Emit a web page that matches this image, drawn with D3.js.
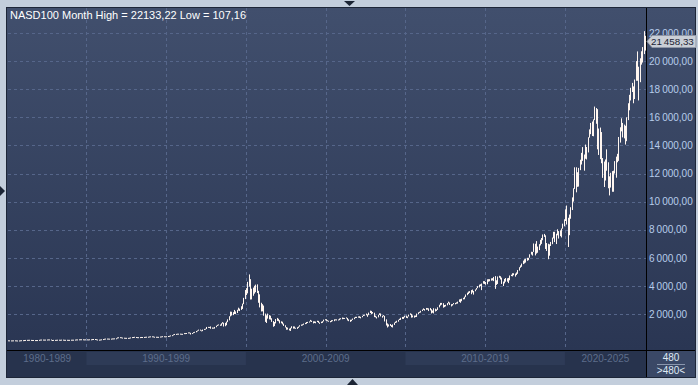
<!DOCTYPE html>
<html>
<head>
<meta charset="utf-8">
<script src="https://cdn.jsdelivr.net/npm/d3@7"></script>
<style>
  html, body { margin: 0; padding: 0; background: #c3cedc; }
  svg { display: block; font-family: "Liberation Sans", Arial, sans-serif; }
</style>
</head>
<body>
<div id="chart"></div>
<script>
// Monthly bars, Feb 1985 .. Jan 2025 (480 months)
const title = "NASD100 Month High = 22133,22 Low = 107,16";
const lastValue = 21458.33;

const lows = [
  120,114,113,115,118,117,112,107.16,108,114,123,                // 1985 (Feb-Dec)
  128,133,142,146,152,150,138,140,134,135,137,137,               // 1986
  140,158,167,164,165,168,172,177,174,125,130,133,               // 1987
  146,149,160,161,157,162,163,154,155,157,152,154,               // 1988
  158,163,164,170,178,176,179,192,193,176,184,188,               // 1989
  175,178,186,182,190,205,196,178,165,160,166,181,               // 1990
  196,212,228,230,236,222,227,240,248,250,250,252,               // 1991
  318,330,315,295,298,285,286,290,294,305,330,345,               // 1992
  350,330,335,322,328,345,340,347,359,365,360,370,               // 1993
  392,396,368,360,360,345,352,368,391,395,388,390,               // 1994
  395,408,425,440,465,488,540,555,565,550,565,555,               // 1995
  550,575,585,600,640,630,540,590,630,690,700,780,               // 1996
  810,810,780,780,880,900,930,1020,1020,950,950,960,             // 1997
  960,1060,1150,1190,1160,1170,1310,1110,1130,1200,1420,1550,    // 1998
  1830,1890,1920,2000,1990,2070,2240,2210,2290,2360,2700,3060,   // 1999
  3340,3470,3950,3030,3040,3300,3450,3550,3490,2800,2470,2180,   // 2000
  2190,1880,1440,1360,1670,1620,1600,1440,1090,1140,1330,1510,   // 2001
  1480,1330,1340,1260,1150,1040,880,890,830,795,980,960,         // 2002
  960,950,940,1010,1100,1160,1180,1230,1280,1300,1360,1390,      // 2003
  1460,1430,1330,1360,1340,1430,1370,1300,1350,1370,1470,1550,   // 2004
  1510,1480,1460,1410,1440,1490,1490,1560,1540,1540,1560,1620,   // 2005
  1630,1640,1650,1680,1540,1490,1440,1490,1580,1630,1710,1720,   // 2006
  1740,1720,1690,1770,1860,1880,1910,1800,1920,2070,1980,2030,   // 2007
  1780,1760,1680,1760,1930,1830,1740,1830,1470,1180,1040,1110,   // 2008
  1150,1070,1040,1220,1360,1390,1450,1570,1580,1650,1650,1750,   // 2009
  1720,1700,1820,1940,1740,1760,1740,1780,1790,2000,2080,2100,   // 2010
  2210,2290,2240,2300,2310,2210,2260,2040,2090,2040,2180,2220,   // 2011
  2290,2470,2600,2660,2450,2490,2540,2620,2750,2640,2540,2600,   // 2012
  2690,2690,2730,2740,2860,2800,2910,3040,3050,3200,3340,3420,   // 2013
  3500,3410,3530,3380,3620,3730,3840,3890,3980,3700,4160,4140,   // 2014
  4080,4120,4300,4330,4370,4390,4340,3790,4070,4140,4580,4460,   // 2015
  4140,3990,4180,4300,4300,4200,4400,4700,4680,4760,4660,4770,   // 2016
  4860,5090,5290,5360,5550,5600,5660,5790,5830,6010,6230,6160,   // 2017
  6420,6170,6300,6360,6550,6880,6990,7250,7490,6630,6490,5900,   // 2018
  6150,6840,6970,7380,7120,6980,7600,7370,7540,7450,8070,8240,   // 2019
  8620,8370,6771,7610,8780,9400,10000,10900,10660,11050,11070,12240,     // 2020
  12640,12900,12200,13050,13000,13500,14550,14800,14670,14650,15800,15540, // 2021
  13720,13320,13020,12730,11690,11040,11500,12200,10950,10440,11000,10700, // 2022
  10700,12000,11700,12800,12900,14200,15000,14570,14500,14060,14300,15800, // 2023
  16500,17200,17800,17000,17300,18600,18600,17200,18500,19750,19900,20500, // 2024
  20750                                                           // 2025 (Jan)
];

const highs = [
  128,125,120,122,125,126,122,116,117,126,134,                   // 1985 (Feb-Dec)
  137,147,155,160,163,165,158,152,152,144,145,145,               // 1986
  162,178,182,180,177,178,183,190,188,184,150,158,               // 1987
  159,164,170,170,167,175,175,166,163,165,162,161,               // 1988
  170,172,172,180,190,190,197,202,203,200,192,196,               // 1989
  195,190,199,198,213,220,220,205,185,175,185,198,               // 1990
  218,238,250,252,250,245,248,260,262,268,272,332,               // 1991
  345,350,342,322,312,306,305,302,312,332,356,365,               // 1992
  378,365,352,350,357,365,362,368,378,385,385,400,               // 1993
  410,412,405,383,381,379,375,396,405,420,418,410,               // 1994
  415,435,450,475,495,548,580,585,600,600,602,595,               // 1995
  590,640,640,650,690,690,660,645,705,730,790,830,               // 1996
  890,890,835,890,940,955,1080,1085,1080,1115,1040,1030,         // 1997
  1080,1170,1230,1260,1250,1340,1420,1380,1370,1460,1620,1840,   // 1998
  2170,2160,2130,2290,2190,2300,2450,2380,2550,2740,3150,3710,   // 1999
  3840,4290,4816,4480,3800,3880,4010,4090,4110,3650,3400,2800,   // 2000
  2700,2600,2030,1910,2030,1920,1880,1700,1500,1430,1640,1720,   // 2001
  1660,1560,1480,1450,1320,1200,1070,1030,960,1020,1130,1120,    // 2002
  1110,1020,1060,1110,1200,1250,1270,1320,1370,1430,1440,1470,   // 2003
  1580,1530,1480,1480,1460,1520,1510,1400,1450,1490,1600,1630,   // 2004
  1630,1560,1520,1500,1560,1560,1620,1620,1620,1610,1680,1700,   // 2005
  1750,1730,1720,1760,1720,1620,1590,1600,1680,1750,1800,1800,   // 2006
  1830,1840,1800,1870,1940,1950,2030,1980,2100,2240,2220,2140,   // 2007
  2090,1880,1810,1950,2050,2040,1880,1920,1870,1620,1330,1260,   // 2008
  1290,1210,1260,1390,1460,1520,1590,1660,1730,1790,1800,1880,   // 2009
  1890,1820,1960,2050,2010,1900,1890,1890,2030,2120,2160,2230,   // 2010
  2320,2400,2360,2430,2420,2400,2430,2340,2250,2410,2380,2330,   // 2011
  2480,2660,2790,2790,2770,2640,2660,2780,2880,2820,2700,2710,   // 2012
  2780,2790,2830,2880,3040,3060,3090,3150,3240,3390,3520,3600,   // 2013
  3630,3700,3740,3640,3750,3860,3990,4090,4120,4170,4340,4340,   // 2014
  4280,4470,4480,4480,4540,4550,4640,4700,4400,4670,4720,4690,   // 2015
  4590,4310,4500,4560,4540,4570,4740,4800,4900,4900,4880,4960,   // 2016
  5130,5330,5460,5590,5800,5900,5930,6000,6000,6250,6430,6420,   // 2017
  7020,7000,7190,6800,6970,7280,7410,7660,7700,7600,7050,7000,   // 2018
  6960,7130,7440,7850,7850,7710,8030,7900,7950,8090,8430,8740,   // 2019
  9450,9720,8850,9080,9600,10300,10950,12440,12440,12090,12400,12980,       // 2020
  13470,13880,13350,14060,13890,14580,15140,15600,15700,15850,16764,16660,  // 2021
  16580,15200,15270,14950,13100,12850,13000,13720,12800,11800,12050,12170,  // 2022
  12200,12880,13200,13400,14600,15290,15930,15600,15480,15400,16000,17000,  // 2023
  17600,18100,18450,18200,18690,20000,20690,19600,20200,20700,21000,22133.22, // 2024
  21800                                                           // 2025 (Jan)
];

const decadeLabels = ["1980-1989", "1990-1999", "2000-2009", "2010-2019", "2020-2025"];
const decadeStarts = [0, 59, 179, 299, 419];   // month index where each decade band begins
const decadeEnds   = [59, 179, 299, 419, 480];
const gridMonths = [59, 119, 179, 239, 299, 359, 419];  // every five years from Jan 1990
const yTicks = [2000, 4000, 6000, 8000, 10000, 12000, 14000, 16000, 18000, 20000, 22000];
const barCount = "480";

const W = 698, H = 385;
const plot = { left: 8, right: 646, top: 8, bottom: 350 };

const fmt = v => {
  const [a, b] = v.toFixed(2).split(".");
  return a.replace(/\B(?=(\d{3})+(?!\d))/g, "\u2009") + "," + b;
};

const svg = d3.select("#chart").append("svg")
  .attr("width", W).attr("height", H);

const defs = svg.append("defs");
const grad = defs.append("linearGradient").attr("id", "bg")
  .attr("x1", 0).attr("y1", 0).attr("x2", 0).attr("y2", 1);
grad.append("stop").attr("offset", "0%").attr("stop-color", "#414f6d");
grad.append("stop").attr("offset", "100%").attr("stop-color", "#2a3653");
defs.append("clipPath").attr("id", "clip").append("rect")
  .attr("x", plot.left).attr("y", plot.top)
  .attr("width", plot.right - plot.left).attr("height", plot.bottom - plot.top);

// outer frame + navigation arrows
svg.append("rect").attr("width", W).attr("height", H).attr("fill", "#c3cedc");
svg.append("path").attr("d", "M344,1 L355,1 L349.5,6 Z").attr("fill", "#1c2535");
svg.append("path").attr("d", "M0,186 L5,191 L0,196 Z").attr("fill", "#1c2535");
svg.append("path").attr("d", "M347,385 L358,385 L352.5,379 Z").attr("fill", "#1c2535");

svg.append("rect").attr("x", 6).attr("y", 7).attr("width", 690).attr("height", 371)
  .attr("fill", "#1d2638");
svg.append("rect").attr("x", 7).attr("y", 8).attr("width", 688).attr("height", 342)
  .attr("fill", "url(#bg)");

const x = d3.scaleBand().domain(d3.range(480)).range([plot.left, plot.right]).padding(0);
const y = d3.scaleLinear().domain([0, 22000]).range([342.1, 33]);
const xe = i => plot.left + i * x.step();

// grid
const grid = svg.append("g").attr("stroke", "#56668a").attr("stroke-dasharray", "3,3")
  .attr("stroke-width", 1);
grid.selectAll("line.h").data(yTicks).join("line").attr("class", "h")
  .attr("x1", plot.left).attr("x2", plot.right)
  .attr("y1", d => Math.round(y(d)) + 0.5).attr("y2", d => Math.round(y(d)) + 0.5);
grid.selectAll("line.v").data(gridMonths).join("line").attr("class", "v")
  .attr("x1", d => Math.round(xe(d)) + 0.5).attr("x2", d => Math.round(xe(d)) + 0.5)
  .attr("y1", plot.top).attr("y2", plot.bottom);

// bars (high-low)
svg.append("g").attr("clip-path", "url(#clip)")
  .selectAll("rect").data(d3.range(480)).join("rect")
  .attr("x", i => Math.round(x(i) + x.bandwidth() / 2 - 0.5))
  .attr("width", 1)
  .attr("y", i => y(highs[i]))
  .attr("height", i => Math.max(1, y(lows[i]) - y(highs[i])))
  .attr("fill", "#fff6f0");

// separators
svg.append("line").attr("x1", plot.right + 0.5).attr("x2", plot.right + 0.5)
  .attr("y1", plot.top).attr("y2", 377).attr("stroke", "#000");
svg.append("line").attr("x1", 7).attr("x2", 695).attr("y1", plot.bottom + 0.5).attr("y2", plot.bottom + 0.5)
  .attr("stroke", "#000");

// y axis on the right (top label sits partly under the last-value tag, as in the source)
const yAxis = d3.axisRight(y).tickValues(yTicks).tickSize(0).tickPadding(2).tickFormat(fmt);
const ya = svg.append("g").attr("transform", `translate(${plot.right + 1},0)`).call(yAxis);
ya.select(".domain").remove();
ya.selectAll("text").attr("fill", "#b6cceb").attr("font-size", 10)
  .attr("font-family", "'Liberation Sans', Arial, sans-serif");

// last value tag
const ly = Math.round(y(lastValue)) + 0.5;
svg.append("path")
  .attr("d", `M647,${ly} L652,${ly - 6} L696,${ly - 6} L696,${ly + 6} L652,${ly + 6} Z`)
  .attr("fill", "#c9ced6").attr("stroke", "#8e96a6");
svg.append("text").attr("x", 651).attr("y", ly + 3.5).attr("font-size", 9.8)
  .attr("fill", "#1a2233").text(fmt(lastValue));

// bottom time strip
svg.append("rect").attr("x", 7).attr("y", 351).attr("width", 639).attr("height", 26).attr("fill", "#27334d");
const bands = svg.append("g");
bands.selectAll("rect").data(decadeLabels).join("rect")
  .attr("x", (d, i) => xe(decadeStarts[i]))
  .attr("width", (d, i) => xe(decadeEnds[i]) - xe(decadeStarts[i]))
  .attr("y", 352).attr("height", 13)
  .attr("fill", (d, i) => i % 2 === 1 ? "#2e3b57" : "none");
bands.selectAll("text").data(decadeLabels).join("text")
  .attr("x", (d, i) => (xe(decadeStarts[i]) + xe(decadeEnds[i])) / 2)
  .attr("y", 362).attr("text-anchor", "middle")
  .attr("font-size", 10).attr("fill", "#5d6d8b").text(d => d);

// bar count box
svg.append("rect").attr("x", 647).attr("y", 351).attr("width", 48).attr("height", 26).attr("fill", "#3a4866");
svg.append("text").attr("x", 671).attr("y", 361).attr("text-anchor", "middle")
  .attr("font-size", 10).attr("fill", "#dfe8f4").text(barCount);
svg.append("line").attr("x1", 657).attr("x2", 685).attr("y1", 364.5).attr("y2", 364.5)
  .attr("stroke", "#8a97ae");
svg.append("text").attr("x", 671).attr("y", 374).attr("text-anchor", "middle")
  .attr("font-size", 10).attr("fill", "#dfe8f4").text(">" + barCount + "<");

// title
svg.append("text").attr("x", 10).attr("y", 19).attr("font-size", 11)
  .attr("fill", "#ffffff").text(title);
</script>
</body>
</html>
